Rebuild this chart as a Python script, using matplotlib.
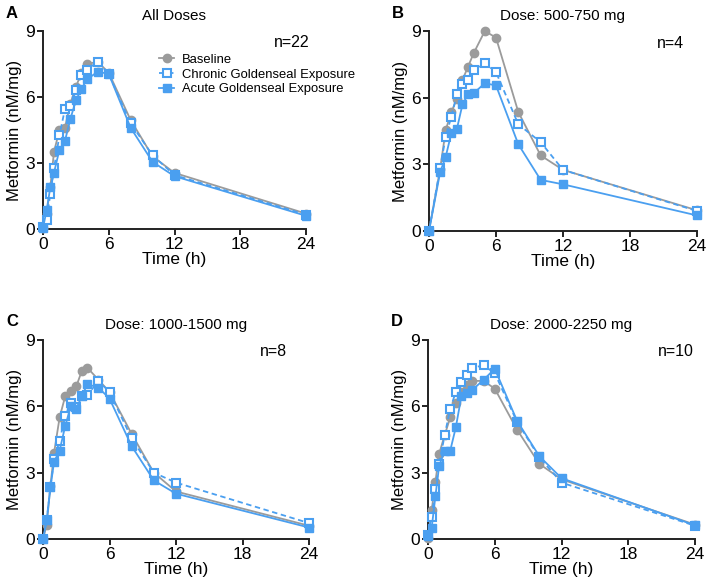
import numpy as np
import matplotlib
matplotlib.use("Agg")
import matplotlib.pyplot as plt

plt.rcParams['font.family'] = ['Liberation Sans', 'DejaVu Sans']

# ---- data ----
times = [0, 0.33, 0.67, 1, 1.5, 2, 2.5, 3, 3.5, 4, 5, 6, 8, 10, 12, 24]
times_b = [0, 1, 1.5, 2, 2.5, 3, 3.5, 4, 5, 6, 8, 10, 12, 24]

a_base = [0.05, 0.7, 1.9, 3.5, 4.5, 4.6, 5.7, 6.45, 7.1, 7.5, 7.6, 7.1, 4.95, 3.3, 2.55, 0.7]
a_chronic = [0.1, 0.4, 1.6, 2.75, 4.25, 5.45, 5.6, 6.3, 7.0, 7.25, 7.6, 7.05, 4.8, 3.35, 2.45, 0.65]
a_acute = [0.05, 0.85, 1.9, 2.55, 3.6, 4.0, 5.0, 5.85, 6.35, 6.8, 7.15, 7.05, 4.6, 3.05, 2.4, 0.6]

b_base = [0, 2.8, 4.55, 5.35, 5.95, 6.8, 7.4, 8.0, 9.0, 8.7, 5.35, 3.4, 2.75, 0.93]
b_chronic = [0, 2.85, 4.25, 5.15, 6.15, 6.6, 6.8, 7.25, 7.55, 7.15, 4.8, 4.0, 2.75, 0.9]
b_acute = [0, 2.65, 3.35, 4.4, 4.6, 5.7, 6.15, 6.2, 6.65, 6.55, 3.9, 2.3, 2.1, 0.7]

c_base = [0, 0.63, 2.4, 3.9, 5.5, 6.45, 6.7, 6.9, 7.6, 7.75, 7.2, 6.65, 4.75, 3.0, 2.15, 0.6]
c_chronic = [0, 0.84, 2.35, 3.6, 4.45, 5.55, 6.15, 5.95, 6.45, 6.5, 7.15, 6.65, 4.55, 3.0, 2.55, 0.72]
c_acute = [0, 0.84, 2.33, 3.5, 4.0, 5.1, 6.0, 5.9, 6.45, 7.0, 6.85, 6.35, 4.2, 2.65, 2.05, 0.52]

d_base = [0.05, 1.3, 2.6, 3.85, 4.7, 5.5, 6.15, 6.65, 6.95, 7.15, 7.15, 6.8, 4.95, 3.4, 2.7, 0.65]
d_chronic = [0.2, 1.0, 2.25, 3.4, 4.7, 5.9, 6.65, 7.1, 7.4, 7.75, 7.85, 7.5, 5.3, 3.7, 2.55, 0.6]
d_acute = [0.15, 0.5, 1.95, 3.3, 4.0, 4.0, 5.05, 6.45, 6.6, 6.75, 7.2, 7.7, 5.35, 3.75, 2.75, 0.62]

panels = [
    ("A", "All Doses", "n=22", times, a_base, a_chronic, a_acute),
    ("B", "Dose: 500-750 mg", "n=4", times_b, b_base, b_chronic, b_acute),
    ("C", "Dose: 1000-1500 mg", "n=8", times, c_base, c_chronic, c_acute),
    ("D", "Dose: 2000-2250 mg", "n=10", times, d_base, d_chronic, d_acute),
]

# axes boxes in pixels: left, top, right, bottom
boxes = [(43, 31, 306, 229), (429, 31, 697, 231), (43, 340, 309, 539), (428, 340, 695, 539)]
# right edge of the "n=" note, in axes fraction
n_right = [1.015, 0.95, 0.917, 0.996]

gray = "#9b9b9b"
blue = "#4a9ff0"

W, H = 709, 586
fig = plt.figure(figsize=(W / 100, H / 100), dpi=100)

for (letter, title, ntext, t, base, chron, acute), (l, tp, r, b), nx in zip(panels, boxes, n_right):
    ax = fig.add_axes([l / W, 1 - b / H, (r - l) / W, (b - tp) / H])
    ax.plot(t, base, color=gray, lw=1.3, marker="o", ms=6, clip_on=False,
            zorder=3, label="Baseline")
    ax.plot(t, chron, color=blue, lw=1.3, ls=(0, (3, 2)), marker="s", ms=6,
            mfc="white", mew=1.5, clip_on=False, zorder=4,
            label="Chronic Goldenseal Exposure")
    ax.plot(t, acute, color=blue, lw=1.3, marker="s", ms=6, clip_on=False,
            zorder=5, label="Acute Goldenseal Exposure")
    ax.set_xlim(0, 24)
    ax.set_ylim(0, 9)
    ax.set_xticks([0, 6, 12, 18, 24])
    ax.set_yticks([0, 3, 6, 9])
    for s in ["top", "right"]:
        ax.spines[s].set_visible(False)
    for s in ["left", "bottom"]:
        ax.spines[s].set_linewidth(1.4)
        ax.spines[s].set_color("#222222")
    ax.tick_params(width=1.4, length=4, labelsize=12.5, color="#222222", pad=2)
    ax.set_xlabel("Time (h)", fontsize=12.5, labelpad=0)
    ax.set_ylabel("Metformin (nM/mg)", fontsize=12, labelpad=2)
    ax.set_title(title, fontsize=11, pad=8)
    ax.text(nx, 0.94, ntext, transform=ax.transAxes, ha="right", va="center",
            fontsize=11.5)
    fig.text((l - 37) / W, 1 - (tp - 18) / H, letter, fontsize=12,
             fontweight="bold", va="center", ha="left")
    if letter == "A":
        ax.legend(loc="upper left", bbox_to_anchor=(0.44, 0.885), frameon=False,
                  fontsize=9.4, handlelength=1.2, handletextpad=0.6,
                  labelspacing=0.2, borderaxespad=0, borderpad=0)

fig.savefig("out.png", dpi=100)
